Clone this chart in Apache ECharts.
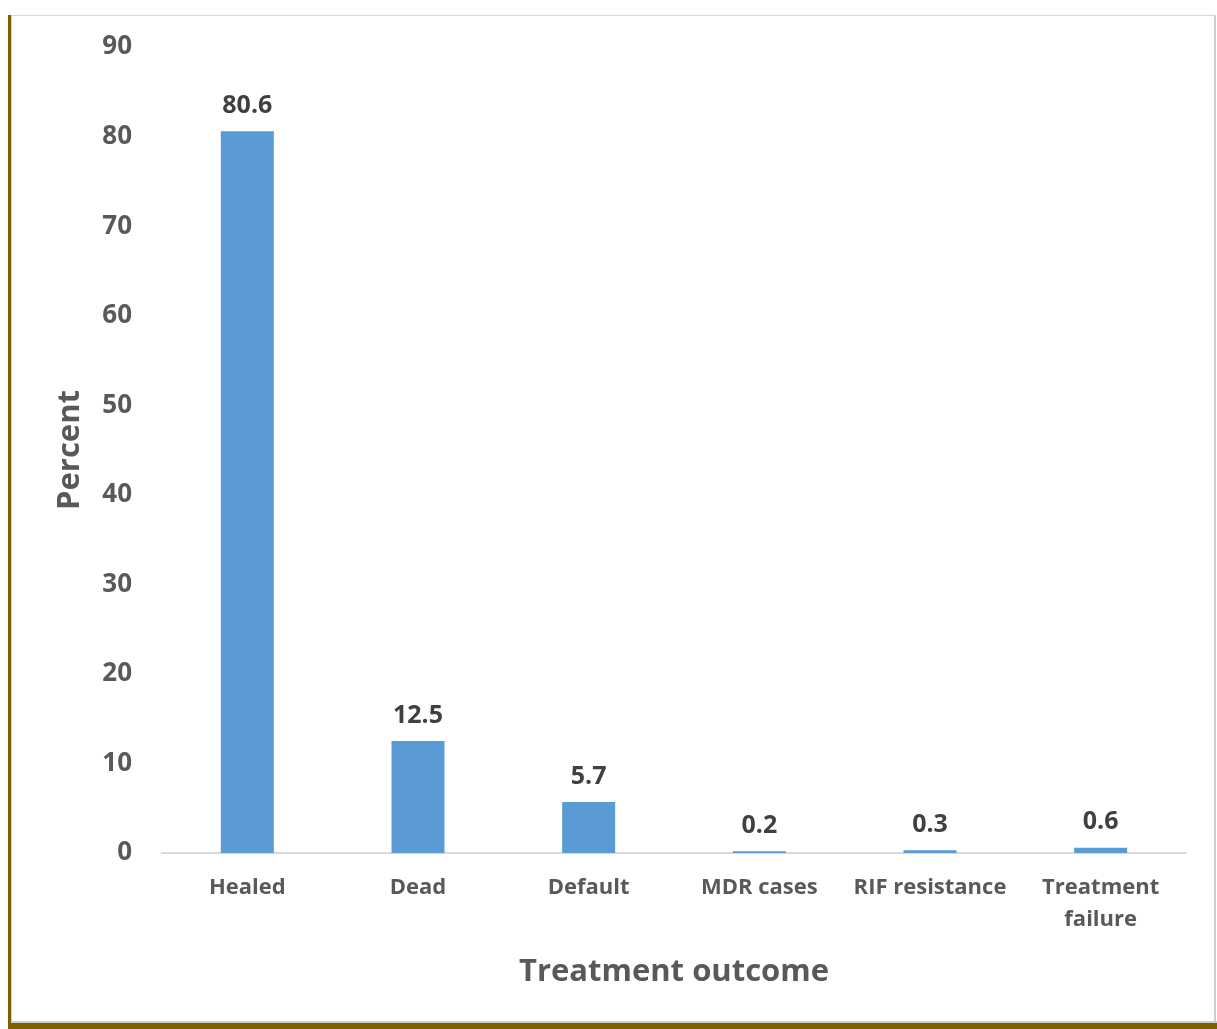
<!DOCTYPE html>
<html>
<head>
<meta charset="utf-8">
<script src="https://cdn.jsdelivr.net/npm/echarts@6/dist/echarts.min.js"></script>
<style>
  html, body { margin: 0; padding: 0; background: #ffffff; }
  #chart { width: 1217px; height: 1029px; }
</style>
</head>
<body>
<div id="chart"></div>
<script>
// Treatment outcomes (percent of patients)
const categories = ['Healed', 'Dead', 'Default', 'MDR cases', 'RIF resistance', 'Treatment\nfailure'];
const percents = [80.6, 12.5, 5.7, 0.2, 0.3, 0.6];
const yTicks = [0, 10, 20, 30, 40, 50, 60, 70, 80, 90];

const FONT = '"Open Sans", "Noto Sans", sans-serif';
const chart = echarts.init(document.getElementById('chart'));

chart.setOption({
  backgroundColor: '#ffffff',
  animation: false,
  grid: { left: 162, right: 31, top: 47, bottom: 176, containLabel: false },
  xAxis: {
    type: 'category',
    data: categories,
    name: 'Treatment outcome',
    nameLocation: 'middle',
    nameGap: 104,
    nameTextStyle: { fontFamily: FONT, fontWeight: 'bold', fontSize: 31, color: '#595959' },
    axisLine: { lineStyle: { color: '#d9d9d9', width: 2 } },
    axisTick: { show: false },
    axisLabel: {
      fontFamily: FONT, fontWeight: 'bold', fontSize: 22, color: '#595959',
      margin: 19, lineHeight: 32, interval: 0
    }
  },
  yAxis: {
    type: 'value',
    min: yTicks[0],
    max: yTicks[yTicks.length - 1],
    interval: 10,
    name: 'Percent',
    nameLocation: 'middle',
    nameGap: 76,
    nameTextStyle: { fontFamily: FONT, fontWeight: 'bold', fontSize: 31, color: '#595959' },
    axisLine: { show: false },
    axisTick: { show: false },
    splitLine: { show: false },
    axisLabel: { fontFamily: FONT, fontWeight: 'bold', fontSize: 26, color: '#595959', margin: 30 }
  },
  series: [{
    type: 'bar',
    data: percents,
    barWidth: 53,
    itemStyle: { color: '#5b9bd5' },
    label: {
      show: true,
      position: 'top',
      distance: 13,
      fontFamily: FONT, fontWeight: 'bold', fontSize: 25, color: '#404040'
    }
  }],
  graphic: [
    // frame: light inner rules and gold outer edges
    { type: 'rect', shape: { x: 12, y: 15, width: 1203, height: 1 }, style: { fill: '#d9d9d9' }, silent: true },
    { type: 'rect', shape: { x: 1214, y: 15, width: 2, height: 1008 }, style: { fill: '#d0cec8' }, silent: true },
    { type: 'rect', shape: { x: 11, y: 1021, width: 1206, height: 2 }, style: { fill: '#d0cec8' }, silent: true },
    { type: 'rect', shape: { x: 11, y: 15, width: 1, height: 1008 }, style: { fill: '#d0cec8' }, silent: true },
    { type: 'rect', shape: { x: 8, y: 15, width: 3, height: 1014 }, style: { fill: '#7f6000' }, silent: true },
    { type: 'rect', shape: { x: 8, y: 1023, width: 1209, height: 6 }, style: { fill: '#7f6000' }, silent: true }
  ]
});
</script>
</body>
</html>
